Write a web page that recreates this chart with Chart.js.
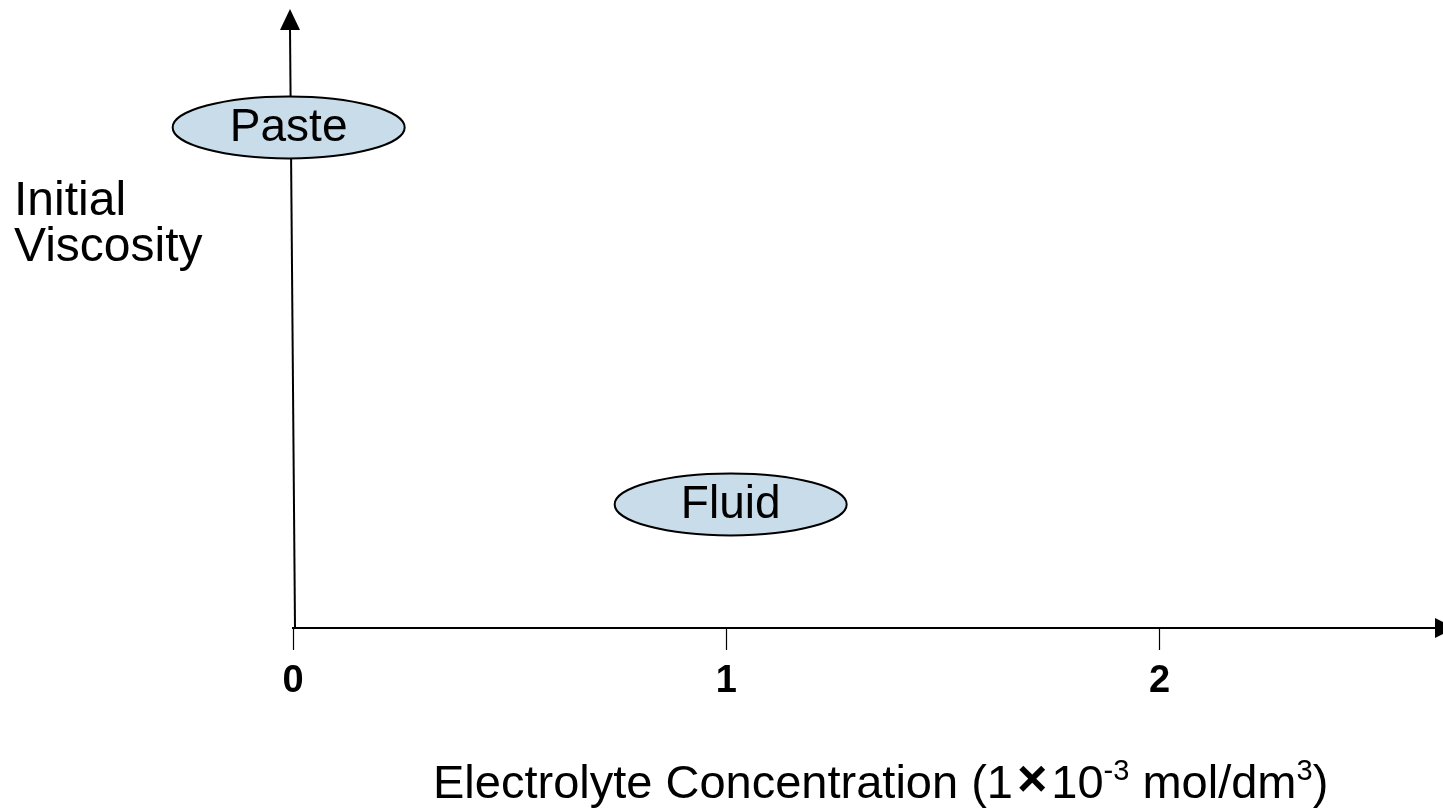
<!DOCTYPE html>
<html>
<head>
<meta charset="utf-8">
<script src="https://cdn.jsdelivr.net/npm/chart.js@4/dist/chart.umd.min.js"></script>
<style>
  html, body { margin: 0; padding: 0; background: #fff; }
  canvas { display: block; }
</style>
</head>
<body>
<canvas id="viscChart" width="1443" height="811"></canvas>
<script>
/* DATA */

const regions = ["Paste", "Fluid"];
const regionX = [-0.01, 1.01];
const regionY = [8.1, 2.0];

const tickValues = [0, 1, 2];
const tickLabels = ["0", "1", "2"];

const yTitleLines = ["Initial", "Viscosity"];
const xTitleParts = [
    { text: "Electrolyte Concentration (1", sup: false },
    { text: "\u00d7", sup: false, bold: true },
    { text: "10", sup: false },
    { text: "-3", sup: true },
    { text: " mol/dm", sup: false },
    { text: "3", sup: true },
    { text: ")", sup: false }
];

const FONT = "'Liberation Sans', Arial, sans-serif";

/* Axis arrows, y axis line, ellipses, titles */

const diagramPlugin = {
    id: "diagram",
    afterDatasetsDraw(chart) {
        const c = chart.ctx;
        const area = chart.chartArea;
        const xs = chart.scales.x;
        const x0 = xs.getPixelForValue(0);

        c.save();
        c.strokeStyle = "#000";
        c.fillStyle = "#000";

        // y axis (slightly slanted like the original)
        c.lineWidth = 2;
        c.beginPath();
        c.moveTo(x0 + 2, area.bottom);
        c.lineTo(x0 - 3, area.top + 18);
        c.stroke();
        c.beginPath();
        c.moveTo(x0 - 3, area.top - 1);
        c.lineTo(x0 - 13, area.top + 20);
        c.lineTo(x0 + 7, area.top + 20);
        c.closePath();
        c.fill();

        // x axis arrow head
        c.beginPath();
        c.moveTo(area.right + 18, area.bottom);
        c.lineTo(area.right - 2, area.bottom - 10);
        c.lineTo(area.right - 2, area.bottom + 10);
        c.closePath();
        c.fill();

        // region ellipses
        const meta = chart.getDatasetMeta(0);
        meta.data.forEach((pt, i) => {
            c.beginPath();
            c.ellipse(pt.x, pt.y, 116, 31, 0, 0, Math.PI * 2);
            c.fillStyle = "#c9dce9";
            c.fill();
            c.lineWidth = 2;
            c.strokeStyle = "#000";
            c.stroke();
            c.fillStyle = "#000";
            c.font = "46px " + FONT;
            c.textAlign = "center";
            c.textBaseline = "middle";
            c.fillText(regions[i], pt.x, pt.y + 1);
        });

        // y title
        c.font = "48px " + FONT;
        c.textAlign = "left";
        c.textBaseline = "alphabetic";
        c.fillText(yTitleLines[0], 14, 215);
        c.fillText(yTitleLines[1], 14, 261);

        // x title with superscripts
        let x = 433;
        const base = 798;
        xTitleParts.forEach(p => {
            if (p.sup) {
                c.font = "29px " + FONT;
                c.fillText(p.text, x, base - 18);
            } else if (p.bold) {
                c.font = "bold 52px " + FONT;
                x += 4;
                c.fillText(p.text, x, base - 2);
                x += 4;
            } else {
                c.font = "47px " + FONT;
                c.fillText(p.text, x, base);
            }
            x += c.measureText(p.text).width;
        });

        c.restore();
    }
};

const ctx = document.getElementById("viscChart");

new Chart(ctx, {
    type: "scatter",
    data: {
        datasets: [{
            data: regions.map((r, i) => ({ x: regionX[i], y: regionY[i] })),
            pointRadius: 0,
            pointHoverRadius: 0
        }]
    },
    options: {
        responsive: false,
        animation: false,
        events: [],
        layout: {
            padding: { left: 293, right: 6, top: 10, bottom: 0 }
        },
        plugins: {
            legend: { display: false },
            tooltip: { enabled: false }
        },
        scales: {
            x: {
                type: "linear",
                min: 0,
                max: 2.64,
                afterBuildTicks: (scale) => {
                    scale.ticks = tickValues.map(v => ({ value: v }));
                },
                afterFit: (scale) => { scale.height = 183; },
                grid: {
                    drawOnChartArea: false,
                    drawTicks: true,
                    tickLength: 22,
                    tickWidth: 1.2,
                    tickColor: "#000"
                },
                border: { display: true, color: "#000", width: 2 },
                ticks: {
                    color: "#000",
                    padding: 9,
                    font: { family: FONT, size: 38, weight: "bold" },
                    callback: (v) => {
                        const i = tickValues.indexOf(v);
                        return i >= 0 ? tickLabels[i] : "";
                    }
                }
            },
            y: {
                type: "linear",
                display: false,
                min: 0,
                max: 10
            }
        }
    },
    plugins: [diagramPlugin]
});
</script>
</body>
</html>
